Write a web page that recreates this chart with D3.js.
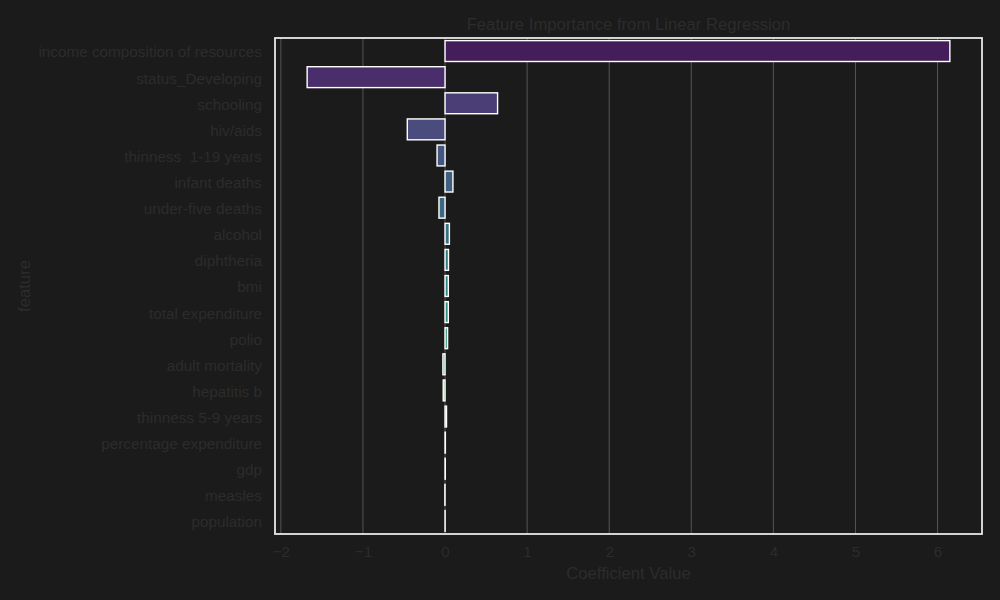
<!DOCTYPE html>
<html>
<head>
<meta charset="utf-8">
<script src="https://cdn.jsdelivr.net/npm/d3@7"></script>
<style>
  html, body { margin: 0; padding: 0; background: #1b1b1b; }
  svg { display: block; }
  text { font-family: "Liberation Sans", Arial, sans-serif; white-space: pre; }
</style>
</head>
<body>
<svg id="chart" width="1000" height="600"></svg>
<script>
// ---- data ----
const features = [
  "income composition of resources", "status_Developing", "schooling", "hiv/aids",
  "thinness  1-19 years", "infant deaths", "under-five deaths", "alcohol",
  "diphtheria", "bmi", "total expenditure", "polio", "adult mortality",
  "hepatitis b", "thinness 5-9 years", "percentage expenditure", "gdp",
  "measles", "population"
];
const coefficients = [
  6.15, -1.68, 0.64, -0.46,
  -0.097, 0.096, -0.074, 0.053,
  0.042, 0.040, 0.040, 0.031, -0.026,
  -0.022, 0.018, 0.004, 0.003,
  -0.002, 0.001
];
const xTicks = [-2, -1, 0, 1, 2, 3, 4, 5, 6];
const titleText = "Feature Importance from Linear Regression";
const xLabel = "Coefficient Value";
const yLabel = "feature";

// ---- layout ----
const W = 1000, H = 600;
const margin = { top: 38, right: 18, bottom: 66, left: 275 };
const iw = W - margin.left - margin.right;
const ih = H - margin.top - margin.bottom;
const textColor = "#2c2c2c";

const svg = d3.select("#chart");
svg.append("rect").attr("width", W).attr("height", H).attr("fill", "#1b1b1b");
const g = svg.append("g").attr("transform", `translate(${margin.left},${margin.top})`);

const lo = Math.min(0, d3.min(coefficients)), hi = Math.max(0, d3.max(coefficients));
const pad = (hi - lo) * 0.05;
const x = d3.scaleLinear().domain([lo - pad, hi + pad]).range([0, iw]);
const y = d3.scaleBand().domain(features).range([0, ih]).paddingInner(0.2).paddingOuter(0.1);

// palette: viridis sampled like seaborn, desaturated 0.75
const n = features.length;
const colors = features.map((f, i) => {
  const c = d3.hsl(d3.interpolateViridis((i + 1) / (n + 1)));
  c.s *= 0.75;
  return c.formatHex();
});

// gridlines
g.append("g").selectAll("line").data(xTicks).join("line")
  .attr("x1", d => x(d)).attr("x2", d => x(d))
  .attr("y1", 0).attr("y2", ih)
  .attr("stroke", "#555").attr("stroke-width", 1);

// bars
g.append("g").selectAll("rect").data(features).join("rect")
  .attr("x", (d, i) => x(Math.min(0, coefficients[i])))
  .attr("width", (d, i) => Math.abs(x(coefficients[i]) - x(0)))
  .attr("y", d => y(d))
  .attr("height", y.bandwidth())
  .attr("fill", (d, i) => colors[i])
  .attr("stroke", "#fff").attr("stroke-width", 1.4);

// x axis
const xAxis = g.append("g").attr("transform", `translate(0,${ih})`)
  .call(d3.axisBottom(x).tickValues(xTicks).tickSize(0).tickPadding(12));
xAxis.select(".domain").remove();
xAxis.selectAll("text").attr("fill", textColor).style("font-size", "15.3px");

// y axis
const yAxis = g.append("g")
  .call(d3.axisLeft(y).tickSize(0).tickPadding(13));
yAxis.select(".domain").remove();
yAxis.selectAll("text").attr("fill", textColor).attr("dy", "0.42em").style("font-size", "15.3px");

// spines
g.append("rect").attr("x", 0).attr("y", 0).attr("width", iw).attr("height", ih)
  .attr("fill", "none").attr("stroke", "#e8e8e8").attr("stroke-width", 1.8);

// title & labels
svg.append("text").attr("x", margin.left + iw / 2).attr("y", 30)
  .attr("text-anchor", "middle").attr("fill", textColor)
  .style("font-size", "16.7px").text(titleText);
svg.append("text").attr("x", margin.left + iw / 2).attr("y", 579)
  .attr("text-anchor", "middle").attr("fill", textColor)
  .style("font-size", "16.7px").text(xLabel);
svg.append("text").attr("transform", `translate(30,${margin.top + ih / 2}) rotate(-90)`)
  .attr("text-anchor", "middle").attr("fill", textColor)
  .style("font-size", "16.7px").text(yLabel);
</script>
</body>
</html>
